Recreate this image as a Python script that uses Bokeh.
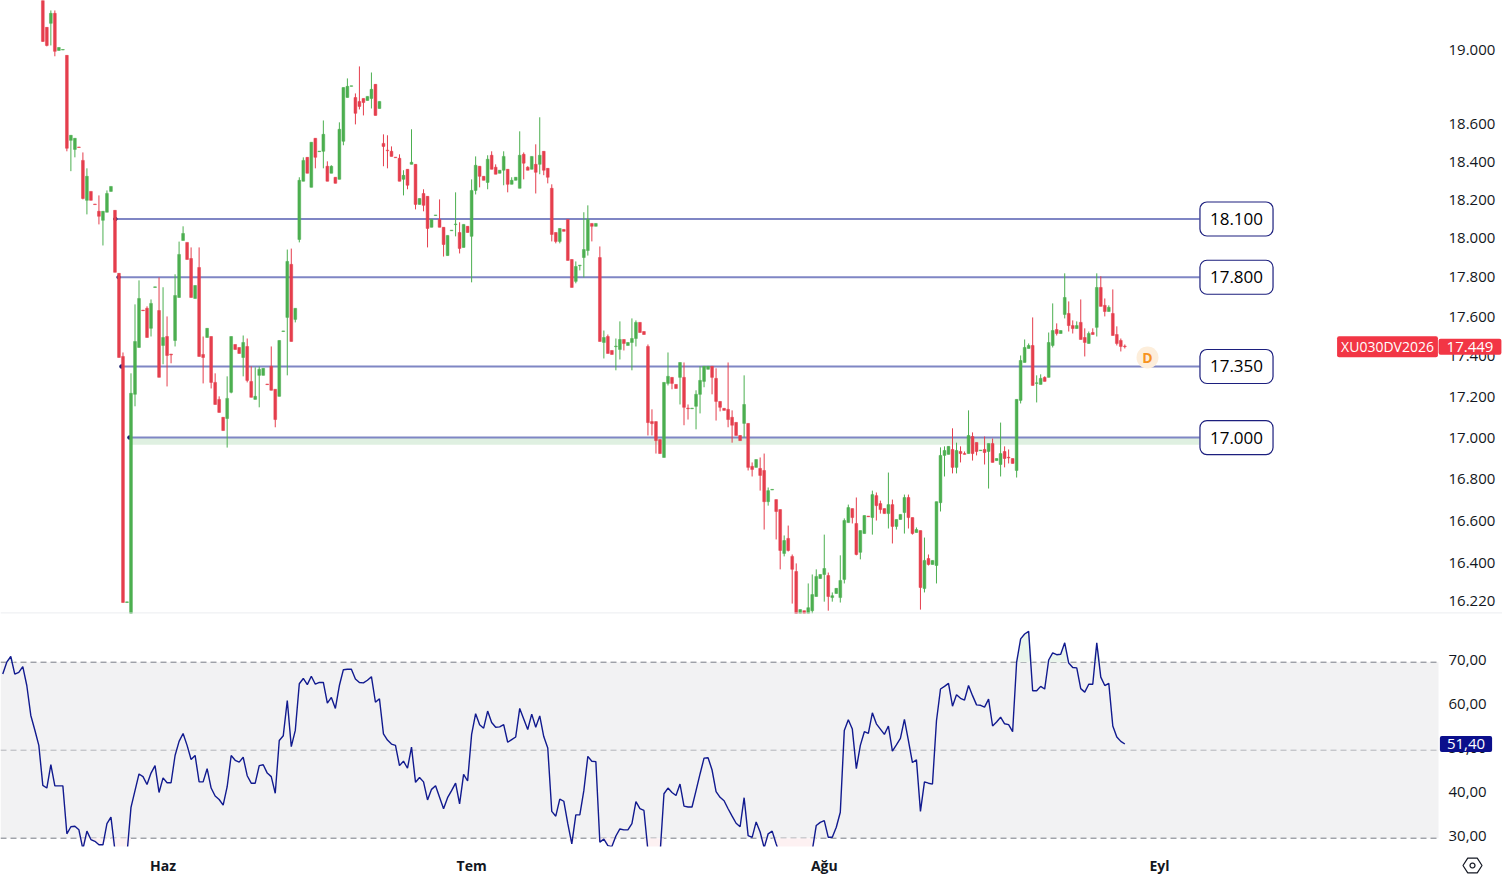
import numpy as np
from bokeh.embed import file_html
from bokeh.resources import INLINE
from bokeh.plotting import figure
from bokeh.layouts import column
from bokeh.models import Range1d, FixedTicker, Label, BoxAnnotation, PolyAnnotation, Span, ColumnDataSource
from bokeh.core.properties import value

opens = [19330,19123,19145,19200,18997,18999,18970,18513,18465,18478,
18407,18197,18244,18178,18140,18093,18135,18244,18145,17820,
17400,16214,16150,17212,17445,17633,17642,17541,17748,17631,
17455,17500,17412,17480,17697,17989,17979,17896,17692,17850,
17410,17495,17500,17271,17187,17099,17093,17222,17460,17445,
17395,17450,17276,17187,17306,17306,17263,17351,17237,17202,
17525,17596,17866,17586,17994,18297,18423,18265,18524,18453,
18455,18376,18339,18318,18307,18508,18742,18802,18742,18721,
18737,18726,18737,18813,18683,18497,18461,18455,18424,18418,
18307,18360,18386,18386,18176,18233,18218,18057,18118,18098,
18057,17911,18039,18071,18030,17953,18062,18010,18249,18376,
18323,18291,18434,18371,18339,18355,18360,18281,18302,18260,
18439,18371,18360,18386,18386,18455,18365,18260,18030,17984,
18046,18098,17891,17779,17859,17901,17937,18077,18062,17901,
17470,17500,17430,17449,17435,17485,17455,17470,17490,17571,
17525,17450,17078,17078,16990,16903,17266,17296,17261,17296,
17296,17144,17141,17153,17212,17276,17336,17351,17291,17177,
17143,17138,17099,17074,17010,17069,17069,16860,16855,16850,
16840,16690,16746,16700,16652,16444,16515,16430,16359,16163,
16176,16163,16176,16242,16326,16345,16340,16237,16256,16237,
16322,16590,16657,16586,16449,16538,16621,16614,16719,16681,
16657,16633,16676,16572,16605,16638,16710,16614,16543,16552,
16279,16420,16392,16387,16685,16913,16918,16942,16855,16932,
16922,16922,17005,16976,16936,16942,16932,16971,16888,16869,
16932,16904,16898,16840,17182,17370,17440,17455,17266,17261,
17296,17296,17455,17535,17515,17611,17616,17555,17540,17571,
17495,17465,17520,17546,17748,17657,17626,17616,17510,17480,17452]

closes = [19046,19024,19200,18992,19013,19002,18471,18540,18524,18475,
18207,18323,18197,18175,18114,18140,18233,18270,17825,17395,
16214,16217,17217,17475,17692,17630,17495,17667,17751,17296,
17495,17405,17408,17707,17917,18025,17891,17697,17758,17400,
17395,17541,17271,17162,17123,17034,17192,17500,17435,17415,
17470,17281,17197,17202,17336,17341,17260,17232,17088,17480,
17528,17881,17475,17642,18302,18407,18339,18503,18423,18456,
18545,18297,18376,18286,18572,18796,18802,18805,18657,18694,
18715,18748,18786,18646,18721,18481,18458,18428,18421,18297,
18328,18276,18397,18176,18207,18171,18051,18098,18121,18057,
17968,18015,18042,18074,17948,18072,18030,18249,18381,18323,
18302,18413,18360,18334,18355,18428,18281,18302,18318,18434,
18392,18355,18428,18344,18434,18355,18318,18020,17984,18051,
18036,17886,17748,17855,17862,17942,18098,18062,18077,17475,
17495,17415,17410,17452,17485,17465,17470,17490,17571,17520,
17510,17073,17068,16985,16922,17271,17301,17266,17241,17370,
17148,17141,17144,17212,17281,17351,17351,17296,17177,17148,
17133,17088,17060,17010,16985,17162,16855,16845,16893,16816,
16690,16743,16749,16643,16458,16505,16458,16369,16150,16181,
16163,16190,16251,16336,16345,16373,16242,16246,16280,16317,
16600,16662,16614,16439,16552,16624,16618,16724,16671,16652,
16633,16676,16572,16605,16629,16710,16614,16538,16557,16284,
16411,16392,16411,16690,16913,16937,16957,16855,16937,16922,
16918,17010,16922,16932,16939,16927,16971,16879,16898,16922,
16898,16901,16874,17187,17380,17445,17455,17256,17269,17291,
17276,17470,17530,17515,17530,17697,17555,17540,17555,17485,
17470,17515,17510,17748,17652,17626,17647,17505,17465,17450,17449]

highs = [19345,19123,19216,19216,19013,19002,18970,18540,18524,18478,
18449,18365,18244,18178,18223,18140,18249,18270,18145,17820,
17420,16217,17316,17662,17784,17633,17652,17687,17751,17799,
17749,17601,17412,17815,17983,18062,17979,17953,17758,17953,
17500,17541,17500,17316,17202,17099,17301,17500,17460,17445,
17505,17490,17351,17346,17350,17341,17263,17450,17237,17480,
17528,17942,17947,17642,18318,18423,18423,18503,18524,18456,
18619,18402,18381,18318,18609,18796,18845,18805,18764,18910,
18737,18748,18877,18813,18721,18545,18540,18481,18424,18439,
18355,18360,18572,18386,18207,18255,18218,18098,18121,18202,
18057,18015,18042,18239,18083,18072,18062,18307,18428,18376,
18323,18434,18455,18386,18355,18455,18360,18318,18318,18561,
18449,18376,18428,18492,18636,18455,18365,18281,18030,18051,
18046,18098,17891,17881,17862,18135,18171,18077,18077,17958,
17530,17510,17430,17490,17576,17485,17470,17591,17581,17571,
17525,17460,17138,17078,16990,17271,17420,17296,17261,17370,
17370,17162,17144,17232,17351,17351,17351,17351,17341,17177,
17143,17370,17133,17074,17010,17306,17069,16879,16893,16903,
16922,16758,16749,16700,16652,16529,16576,16439,16397,16181,
16176,16303,16345,16369,16345,16533,16354,16261,16280,16435,
16610,16676,16657,16710,16552,16624,16621,16743,16734,16695,
16657,16830,16700,16605,16629,16724,16724,16614,16567,16552,
16519,16439,16411,16690,16952,16957,16957,17045,16975,16957,
16932,17133,17025,16976,16939,17005,16971,16995,16898,17073,
16957,16942,16898,17187,17405,17485,17465,17596,17306,17311,
17301,17520,17667,17566,17530,17820,17677,17581,17576,17687,
17541,17525,17541,17820,17805,17692,17657,17738,17551,17490,17460]

lows = [19044,19019,19024,18965,18997,18999,18455,18350,18423,18475,
18202,18124,18197,18175,18072,17963,18135,18244,17825,17395,
16214,16214,16150,17153,17445,17630,17495,17500,17748,17296,
17361,17251,17366,17450,17697,17989,17891,17697,17692,17400,
17266,17495,17241,17162,17123,17034,16951,17217,17435,17415,
17301,17271,17197,17187,17148,17306,17260,17232,17050,17202,
17525,17306,17475,17571,17979,18297,18339,18265,18365,18453,
18365,18297,18339,18286,18307,18487,18742,18802,18598,18678,
18646,18726,18683,18646,18683,18376,18365,18428,18421,18297,
18223,18255,18386,18150,18176,18140,17953,18057,18118,18057,
17906,17911,18039,18010,17922,17953,18030,17774,18228,18265,
18302,18255,18360,18334,18339,18276,18239,18281,18302,18260,
18307,18355,18360,18233,18334,18329,18286,17984,17974,17974,
18036,17886,17748,17769,17835,17799,17911,17984,18062,17475,
17390,17415,17410,17331,17385,17430,17455,17331,17450,17520,
17510,17010,17010,16922,16922,16903,17256,17237,17241,17162,
17060,17088,17141,17040,17118,17247,17336,17212,17083,17128,
17133,17050,16975,17010,16985,17000,16840,16811,16855,16743,
16557,16671,16746,16510,16369,16430,16453,16209,16150,16163,
16163,16163,16163,16242,16326,16218,16176,16218,16256,16214,
16303,16590,16586,16435,16416,16538,16618,16533,16600,16633,
16633,16562,16491,16557,16605,16538,16562,16533,16543,16181,
16261,16387,16392,16303,16643,16811,16918,16826,16826,16879,
16918,16922,16888,16913,16936,16869,16753,16879,16888,16811,
16855,16874,16874,16806,17167,17370,17440,17256,17172,17261,
17276,17296,17445,17505,17515,17591,17525,17515,17540,17485,
17400,17465,17510,17500,17652,17601,17626,17505,17455,17425,17440]

rsi = [67.3,70.0,71.3,67.3,67.7,69.0,64.7,57.9,54.6,51.1,42.0,41.4,46.7,41.9,41.9,41.9,31.0,32.6,32.7,31.9,
27.5,31.6,29.7,29.3,28.5,28.5,33.3,34.8,27.2,26.4,26.1,26.4,37.0,40.8,44.6,44.0,42.2,44.8,46.5,40.4,
43.7,42.6,42.6,48.8,52.0,53.8,51.1,47.9,48.8,42.8,42.8,45.8,41.4,39.6,38.8,37.5,41.7,48.8,47.7,47.3,
48.4,44.2,42.5,42.5,46.5,46.7,44.8,44.0,40.2,52.2,53.3,61.3,50.8,54.5,65.1,66.3,64.9,66.8,65.0,65.4,
65.4,60.7,62.0,59.5,64.7,68.3,68.4,68.4,66.2,65.4,65.3,65.9,66.7,60.9,61.7,53.7,52.3,51.4,51.1,46.5,
47.5,45.9,50.7,42.7,43.8,42.8,38.7,41.1,41.9,39.3,36.7,39.2,40.8,42.5,37.8,44.5,43.0,53.6,58.3,55.8,
55.0,58.9,56.3,55.2,55.3,
55.8,51.8,52.4,53.0,59.5,57.1,54.7,58.2,55.2,57.8,53.1,50.5,36.1,35.0,38.9,38.4,33.3,28.7,35.3,35.3,
40.8,48.6,47.5,47.4,29.1,29.8,28.3,28.1,30.5,32.1,31.9,31.9,33.3,38.3,36.7,36.3,27.2,26.1,25.7,26.1,
40.1,41.4,40.4,39.7,42.3,37.3,37.1,37.1,40.8,44.6,48.2,48.3,45.5,40.6,39.3,38.5,36.7,35.0,33.4,32.6,
39.2,30.6,30.2,33.7,31.4,27.8,31.0,31.6,28.7,26.1,25.3,25.3,25.3,25.3,25.3,25.3,25.7,27.2,32.9,33.6,
34.0,30.2,30.2,32.5,35.9,54.5,56.9,54.8,45.8,51.1,54.2,53.8,58.5,56.0,54.8,53.6,55.5,49.8,51.2,52.7,
57.0,52.2,47.2,47.8,36.1,42.8,42.5,42.3,56.7,63.9,64.5,65.2,60.0,62.6,61.8,61.4,64.7,62.4,60.3,60.2,
59.8,61.6,55.5,56.4,57.5,
56.0,55.8,54.2,70.0,75.3,76.4,77.0,63.5,63.5,64.5,63.9,70.5,72.1,71.7,71.8,74.4,69.8,68.8,68.7,64.0,
63.2,65.0,65.0,74.4,66.6,64.7,65.2,55.5,53.0,52.0,51.4]

price_ticks = [19000,18600,18400,18200,18000,17800,17600,17400,17200,17000,16800,16600,16400,16220]
rsi_ticks = [70,60,50,40,30]
month_names = ["Haz","Tem","Ağu","Eyl"]
month_bars = [30,107,195,278.65]
levels = [18100,17800,17350,17000]
level_start_bars = [18.5,19.3,20,22]
price_last = 17449
rsi_last = 51.4
ticker = "XU030DV2026"

FONT = "Open Sans"
RED, GREEN = "#e53e4d", "#4caf50"
TXT = "#131722"
BAR = 4.0074
X0 = 42.33
def bx(px):
    return (px - X0) / BAR
xr = (bx(0), bx(1502))
def ry(py):
    return 70 - (py - 661.7) / 4.4

n = len(opens)
xs = np.arange(n)
o, c, h, l = map(np.array, (opens, closes, highs, lows))
colors = [GREEN if a <= b else RED for a, b in zip(o, c)]
src = ColumnDataSource(dict(x=xs, o=o, c=c, h=h, l=l, color=colors))

p1 = figure(frame_width=1502, frame_height=613, width=1502, height=614,
            x_range=Range1d(*xr), y_range=Range1d(16163, 19271), y_axis_type="log",
            y_axis_location="right", x_axis_location=None,
            toolbar_location=None, output_backend="svg",
            min_border_left=0, min_border_top=0, min_border_bottom=1, min_border_right=0)
p1.grid.visible = False
p1.outline_line_color = None
p1.background_fill_color = "white"

ax = p1.yaxis[0]
ax.ticker = FixedTicker(ticks=price_ticks, minor_ticks=[])
ax.major_label_overrides = {t: f"{t:,}".replace(",", ".") for t in price_ticks}
ax.axis_line_color = None
ax.major_tick_line_color = None
ax.minor_tick_line_color = None
ax.major_label_text_font = FONT
ax.major_label_text_font_size = "15px"
ax.major_label_text_color = TXT
ax.major_label_standoff = -60

# green zone under the 17.000 level
p1.quad(left=[level_start_bars[3]], right=[bx(1199)], bottom=[16965], top=[17000],
        fill_color="#dff0e1", line_color=None)
for lv, st in zip(levels, level_start_bars):
    p1.segment(x0=[st], x1=[bx(1199)], y0=[lv], y1=[lv], line_color="#7f86c4", line_width=2)
    p1.scatter(x=[st - 0.4], y=[lv], size=3.5, color="#1a1a6e")

p1.segment(x0="x", x1="x", y0="l", y1="h", color="color", line_width=1, source=src)
p1.vbar(x="x", bottom="o", top="c", width=0.7, fill_color="color", line_color="color",
        line_width=0.5, source=src)

p1.scatter(x=[bx(1147)], y=[17395], size=22, fill_color="#fdeedb", line_color=None)
p1.text(x=[bx(1147)], y=[17395], text=["D"], text_color="#f7931e", text_align="center",
        text_baseline="middle", text_font=value(FONT), text_font_size="14px", text_font_style="bold")

for lv in levels:
    p1.add_layout(Label(x=bx(1236), y=lv, text=f"{lv:,}".replace(",", "."), text_align="center",
                        text_baseline="middle", text_font=FONT, text_font_size="17px",
                        text_color="#000000", background_fill_color="white", background_fill_alpha=1,
                        border_line_color="#1c1f7e", border_line_width=1.2, border_radius=7,
                        padding=(10, 11)))

p1.add_layout(Label(x=bx(1387), y=price_last, text=ticker, text_align="center", text_baseline="middle",
                    text_font=FONT, text_font_size="14px", text_color="white",
                    background_fill_color="#f23645", background_fill_alpha=1, border_radius=2,
                    padding=(4, 1)))
p1.add_layout(Label(x=bx(1469.5), y=price_last, text=f"{price_last:,}".replace(",", "."), text_align="center",
                    text_baseline="middle", text_font=FONT, text_font_size="15px", text_color="white",
                    background_fill_color="#f23645", background_fill_alpha=1, border_radius=2,
                    padding=(8, 3)))
p1.add_layout(Span(location=16165, dimension="width", line_color="#e3e5ea", line_width=1))

p2 = figure(frame_width=1502, frame_height=267, width=1502, height=267,
            x_range=p1.x_range, y_range=Range1d(ry(881), ry(614)),
            y_axis_location="right", toolbar_location=None, output_backend="svg",
            min_border_left=0, min_border_top=0, min_border_bottom=0, min_border_right=0)
p2.grid.visible = False
p2.outline_line_color = None
p2.add_layout(BoxAnnotation(left=bx(0), right=bx(1438), bottom=30, top=70, fill_color="#f2f2f3",
                            fill_alpha=1, line_color=None, level="underlay"))
for lvl, col in [(70, "#787b86"), (50, "#b2b4ba"), (30, "#787b86")]:
    p2.segment(x0=[bx(0)], x1=[bx(1438)], y0=[lvl], y1=[lvl], line_color=col, line_width=1, line_dash="6 4")

r = np.array(rsi)
rx = np.arange(270 - len(r) + 1, 271)
p2.varea(x=rx, y1=np.minimum(r, 30), y2=30, fill_color="#fdf1f2")
p2.varea(x=rx, y1=70, y2=np.maximum(r, 70), fill_color="#eaf5ec")
p2.line(x=rx, y=r, line_color="#111a8f", line_width=1.4)
# the indicator pane ends above the time scale
p2.quad(left=[bx(0)], right=[bx(1502)], bottom=[ry(881)], top=[ry(846)], fill_color="white", line_color=None)

label_lift = 0.55  # the scale's labels sit slightly above their levels
ay = p2.yaxis[0]
ay.ticker = FixedTicker(ticks=[t + label_lift for t in rsi_ticks], minor_ticks=[])
ay.major_label_overrides = {t + label_lift: f"{t},00" for t in rsi_ticks}
ay.axis_line_color = None
ay.major_tick_line_color = None
ay.minor_tick_line_color = None
ay.major_label_text_font = FONT
ay.major_label_text_font_size = "15px"
ay.major_label_text_color = TXT
ay.major_label_standoff = -60

axx = p2.xaxis[0]
axx.ticker = FixedTicker(ticks=month_bars, minor_ticks=[])
axx.major_label_overrides = dict(zip(month_bars, month_names))
axx.axis_line_color = None
axx.major_tick_line_color = None
axx.minor_tick_line_color = None
axx.major_label_text_font = FONT
axx.major_label_text_font_size = "14px"
axx.major_label_text_font_style = "bold"
axx.major_label_text_color = TXT
axx.major_label_standoff = -32

p2.add_layout(Label(x=bx(1465.5), y=rsi_last, text=f"{rsi_last:.2f}".replace(".", ","), text_align="center",
                    text_baseline="middle", text_font=FONT, text_font_size="15px", text_color="white",
                    background_fill_color="#0b0f8c", background_fill_alpha=1, border_radius=2,
                    padding=(7, 3)))

ang = np.deg2rad(np.arange(0, 360, 60))
p2.add_layout(PolyAnnotation(xs=list(bx(1472 + 9.5 * np.cos(ang))), ys=list(ry(865 + 8.5 * np.sin(ang))),
                             fill_alpha=0, line_color=TXT, line_alpha=1, line_width=1.2))
ang2 = np.deg2rad(np.arange(0, 360, 30))
p2.add_layout(PolyAnnotation(xs=list(bx(1472 + 2.5 * np.cos(ang2))), ys=list(ry(865 + 2.5 * np.sin(ang2))),
                             fill_alpha=0, line_color=TXT, line_alpha=1, line_width=1.2))

page = column(p1, p2, spacing=0)
open("out.html", "w").write(file_html(page, INLINE))
